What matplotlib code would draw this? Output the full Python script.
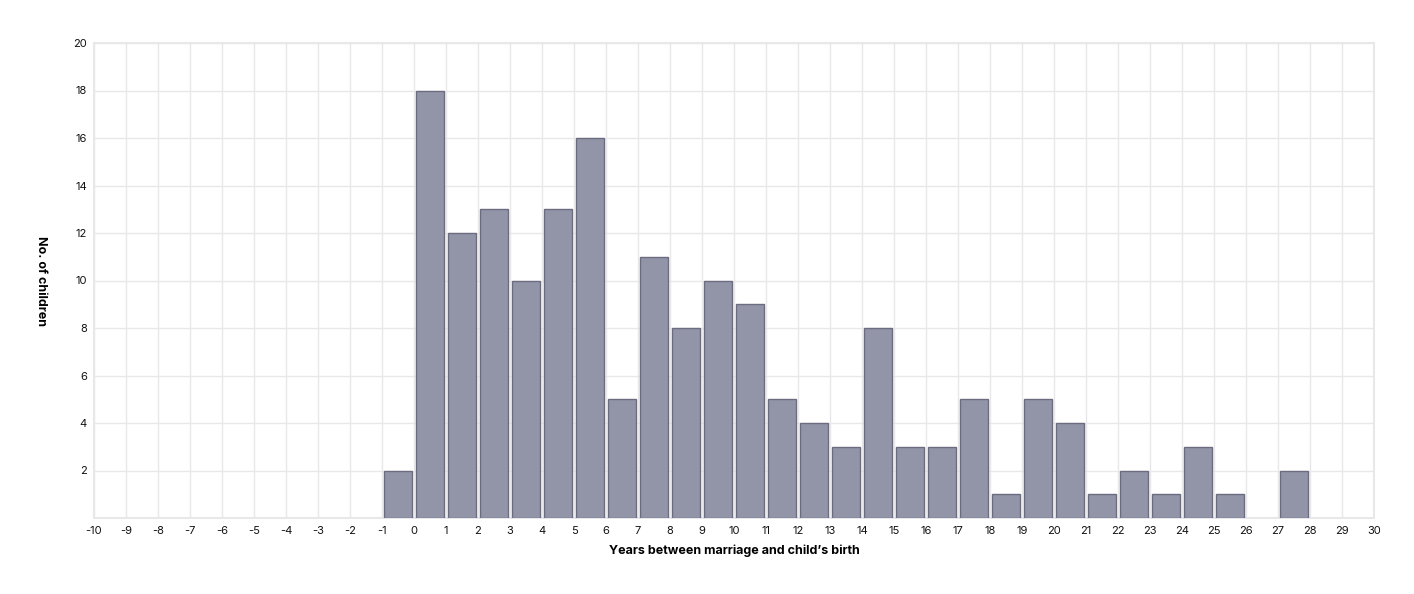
import numpy as np
import matplotlib.pyplot as plt

plt.rcParams['font.family'] = ['Inter', 'DejaVu Sans']
plt.rcParams['axes.unicode_minus'] = False

# left edge of each one-year bin and the count of children in it
bin_start = np.arange(-1, 28)
n_children = [2, 18, 12, 13, 10, 13, 16, 5, 11, 8, 10, 9, 5, 4, 3, 8,
              3, 3, 5, 1, 5, 4, 1, 2, 1, 3, 1, 0, 2]

x_ticks = np.arange(-10, 31)
y_ticks = np.arange(2, 21, 2)

fig = plt.figure(figsize=(14.14, 5.94), dpi=100)
ax = fig.add_axes([94 / 1414, 76 / 594, 1280 / 1414, 475 / 594])

edges = ['#6c6c80' if n > 0 else 'none' for n in n_children]
ax.bar(bin_start + 0.5, n_children, width=0.86, color='#9294a8',
       edgecolor=edges, linewidth=1, zorder=3)

ax.set_xlim(-10, 30)
ax.set_ylim(0, 20)
ax.set_xticks(x_ticks)
ax.set_yticks(y_ticks)
ax.tick_params(length=0, labelsize=8, colors='#111111')
ax.tick_params(axis='x', pad=6)
ax.tick_params(axis='y', pad=5)
ax.grid(True, color='#e8e8e8', linewidth=1, zorder=0)
for s in ax.spines.values():
    s.set_color('#e8e8e8')
    s.set_linewidth(1.5)

ax.set_xlabel("Years between marriage and child\u2019s birth", fontsize=9,
              fontweight='bold', labelpad=6)
ax.set_ylabel('No. of children', fontsize=9, fontweight='bold',
              rotation=270, va='bottom')
ax.yaxis.set_label_coords(-0.046, 0.5)

fig.savefig('out.png', dpi=100)
